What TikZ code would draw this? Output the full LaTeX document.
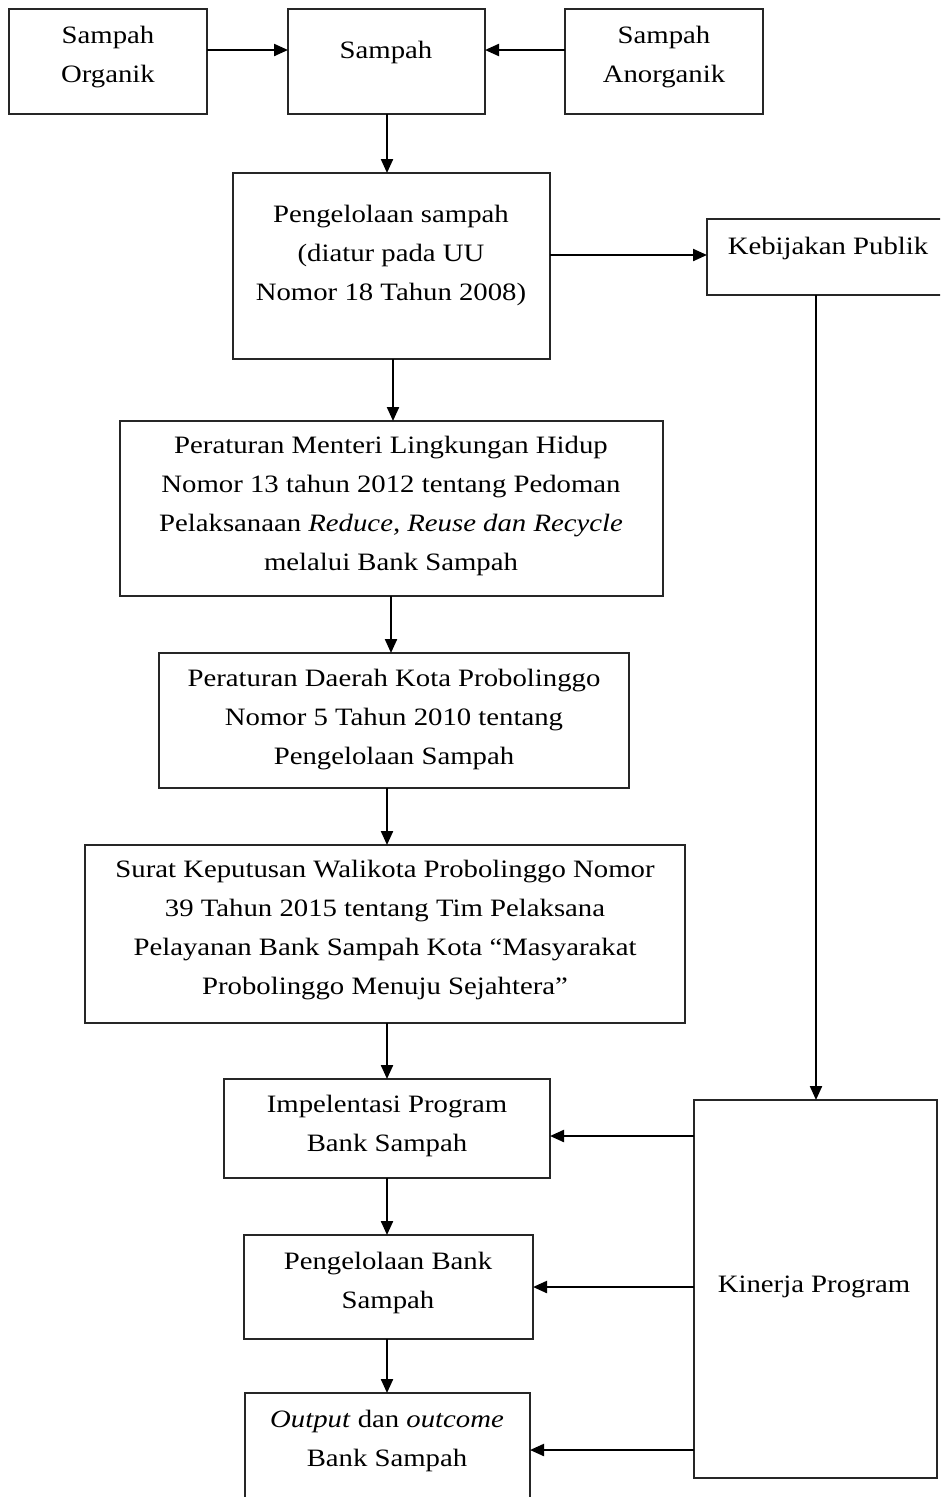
\documentclass[tikz,border=0pt]{standalone}
\usepackage{fontspec}
\setmainfont[FakeStretch=1.15]{Liberation Serif}
\usetikzlibrary{arrows.meta}
\begin{document}
\begin{tikzpicture}[x=1pt,y=-1pt,
  box/.style={draw=black!85, line width=2pt, inner sep=0pt, outer sep=0pt, anchor=north west, fill=white},
  txt/.style={align=center, inner sep=0pt, font=\fontsize{25}{39}\selectfont},
  arr/.style={draw=black, line width=2.2pt, -{Triangle[length=14pt,width=12pt]}}]
\useasboundingbox (0,0) rectangle (940,1497);
\clip (0,0) rectangle (940,1497);
\fill[white] (0,0) rectangle (940,1497);
% boxes
\node[box, minimum width=198pt, minimum height=105pt] (org) at (9,9) {};
\node[box, minimum width=197pt, minimum height=105pt] (samp) at (288,9) {};
\node[box, minimum width=198pt, minimum height=105pt] (anorg) at (565,9) {};
\node[box, minimum width=317pt, minimum height=186pt] (peng) at (233,173) {};
\node[box, minimum width=243pt, minimum height=76pt] (keb) at (707,219) {};
\node[box, minimum width=543pt, minimum height=175pt] (permen) at (120,421) {};
\node[box, minimum width=470pt, minimum height=135pt] (perda) at (159,653) {};
\node[box, minimum width=600pt, minimum height=178pt] (surat) at (85,845) {};
\node[box, minimum width=326pt, minimum height=99pt] (impl) at (224,1079) {};
\node[box, minimum width=289pt, minimum height=104pt] (pbank) at (244,1235) {};
\node[box, minimum width=285pt, minimum height=117pt] (out) at (245,1393) {};
\node[box, minimum width=243pt, minimum height=378pt] (kin) at (694,1100) {};
% texts
\node[txt] (torg) at (108,57) {Sampah\\Organik};
\node[txt] (tsamp) at (386,52) {Sampah};
\node[txt] (tanorg) at (664,57) {Sampah\\Anorganik};
\node[txt] (tpeng) at (391,255) {Pengelolaan sampah\\(diatur pada UU\\Nomor 18 Tahun 2008)};
\node[txt] (tkeb) at (828,248) {Kebijakan Publik};
\node[txt] (tpermen) at (391,506) {Peraturan Menteri Lingkungan Hidup\\Nomor 13 tahun 2012 tentang Pedoman\\Pelaksanaan \textit{Reduce, Reuse dan Recycle}\\melalui Bank Sampah};
\node[txt] (tperda) at (394,720) {Peraturan Daerah Kota Probolinggo\\Nomor 5 Tahun 2010 tentang\\Pengelolaan Sampah};
\node[txt] (tsurat) at (385,930) {Surat Keputusan Walikota Probolinggo Nomor\\39 Tahun 2015 tentang Tim Pelaksana\\Pelayanan Bank Sampah Kota “Masyarakat\\Probolinggo Menuju Sejahtera”};
\node[txt] (timpl) at (387,1126) {Impelentasi Program\\Bank Sampah};
\node[txt] (tpbank) at (388,1283) {Pengelolaan Bank\\Sampah};
\node[txt] (tout) at (387,1441) {\textit{Output} dan \textit{outcome}\\Bank Sampah};
\node[txt] (tkin) at (814,1287) {Kinerja Program};
% helper coordinates
\coordinate (yTop) at (0,50);
\coordinate (yKeb) at (0,255);
\coordinate (yI) at (0,1136);
\coordinate (yP) at (0,1287);
\coordinate (yO) at (0,1450);
\coordinate (xKin) at (816,0);
\coordinate (xA) at (387,0);
\coordinate (xB) at (393,0);
\coordinate (xC) at (391,0);
% connectors
\draw[arr] (org.east |- yTop) -- (samp.west |- yTop);
\draw[arr] (anorg.west |- yTop) -- (samp.east |- yTop);
\draw[arr] (xA |- samp.south) -- (xA |- peng.north);
\draw[arr] (peng.east |- yKeb) -- (keb.west |- yKeb);
\draw[arr] (xB |- peng.south) -- (xB |- permen.north);
\draw[arr] (xC |- permen.south) -- (xC |- perda.north);
\draw[arr] (xA |- perda.south) -- (xA |- surat.north);
\draw[arr] (xA |- surat.south) -- (xA |- impl.north);
\draw[arr] (xA |- impl.south) -- (xA |- pbank.north);
\draw[arr] (xA |- pbank.south) -- (xA |- out.north);
\draw[arr] (xKin |- keb.south) -- (xKin |- kin.north);
\draw[arr] (kin.west |- yI) -- (impl.east |- yI);
\draw[arr] (kin.west |- yP) -- (pbank.east |- yP);
\draw[arr] (kin.west |- yO) -- (out.east |- yO);
\end{tikzpicture}
\end{document}
